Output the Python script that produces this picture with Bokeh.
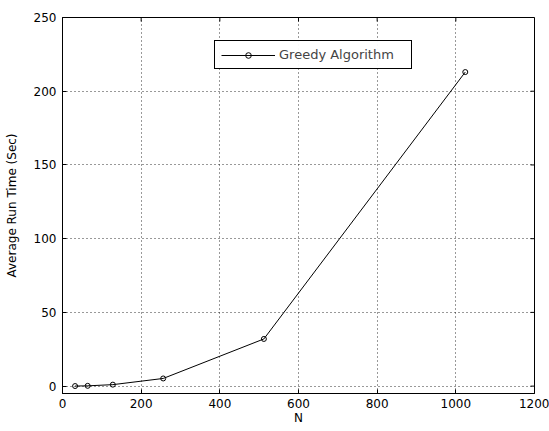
from bokeh.plotting import figure
from bokeh.models import Range1d, Legend, LegendItem, FixedTicker
from bokeh.embed import file_html
from bokeh.resources import INLINE

n_values = [32, 64, 128, 256, 512, 1024]
run_time = [0.06, 0.2, 1.0, 5.2, 32.0, 213.0]
series_name = "Greedy Algorithm"
x_ticks = [0, 200, 400, 600, 800, 1000, 1200]
y_ticks = [0, 50, 100, 150, 200, 250]

FONT = "DejaVu Sans"
X0, X1, Y0, Y1 = 0, 1200, -5, 250

p = figure(width=549, height=427, output_backend="svg", toolbar_location=None,
           x_range=Range1d(X0, X1), y_range=Range1d(Y0, Y1),
           min_border_left=62, min_border_right=15, min_border_top=17, min_border_bottom=34,
           x_axis_label="N", y_axis_label="Average Run Time (Sec)")
p.background_fill_color = "white"
p.border_fill_color = "white"
p.outline_line_color = "black"
p.outline_line_width = 1

for ax in (p.xaxis[0], p.yaxis[0]):
    ax.major_label_text_font = FONT
    ax.major_label_text_font_size = "12px"
    ax.major_label_text_color = "black"
    ax.axis_label_text_font = FONT
    ax.axis_label_text_font_size = "12px"
    ax.axis_label_text_font_style = "normal"
    ax.axis_label_text_color = "black"
    ax.major_tick_in = 4
    ax.major_tick_out = 0
    ax.minor_tick_line_color = None
    ax.axis_line_color = "black"
    ax.major_tick_line_color = "black"
p.xaxis[0].ticker = FixedTicker(ticks=x_ticks)
p.yaxis[0].ticker = FixedTicker(ticks=y_ticks)
p.xaxis[0].major_label_standoff = 5
p.xaxis[0].axis_label_standoff = 0
p.yaxis[0].major_label_standoff = 6
p.yaxis[0].axis_label_standoff = 12

# box ticks on top and right edges (MATLAB "box on")
xt_len = (X1 - X0) * 4 / 472
yt_len = (Y1 - Y0) * 4 / 376
p.segment(x0=x_ticks, x1=x_ticks, y0=[Y1] * len(x_ticks), y1=[Y1 - yt_len] * len(x_ticks),
          line_color="black", line_width=1)
p.segment(x0=[X1] * len(y_ticks), x1=[X1 - xt_len] * len(y_ticks), y0=y_ticks, y1=y_ticks,
          line_color="black", line_width=1)

p.xgrid.ticker = FixedTicker(ticks=x_ticks)
p.ygrid.ticker = FixedTicker(ticks=y_ticks)
for g in (p.xgrid, p.ygrid):
    g.grid_line_color = "black"
    g.grid_line_dash = "1 3"
    g.grid_line_alpha = 0.8
    g.grid_line_width = 1

ln = p.line(n_values, run_time, line_color="black", line_width=1)
sc = p.scatter(n_values, run_time, marker="circle", size=5, line_color="black",
               fill_color=None, line_width=1)

legend = Legend(items=[LegendItem(label=series_name, renderers=[ln, sc])],
                location=(152, 324))
legend.label_text_font = FONT
legend.label_text_font_size = "13px"
legend.border_line_color = "black"
legend.border_line_width = 1
legend.border_line_alpha = 1
legend.background_fill_color = "white"
legend.glyph_width = 54
legend.glyph_height = 14
legend.label_height = 14
legend.label_width = 126
legend.padding = 6
legend.margin = 0
legend.spacing = 0
legend.label_standoff = 4
p.add_layout(legend, "center")

open("out.html", "w").write(file_html(p, INLINE))
